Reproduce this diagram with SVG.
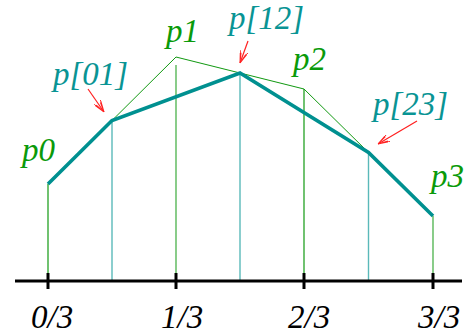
<svg xmlns="http://www.w3.org/2000/svg" width="466" height="336" viewBox="0 0 466 336">
<defs>
<style>
.g{fill:#0a9a0a}
.t{fill:#099494}
.k{fill:#000}
.vg{stroke:#119911;stroke-width:1.2;fill:none}
.vlg{stroke:#6cc06c;stroke-width:1.6;fill:none}
.vt{stroke:#5ab9b9;stroke-width:1.4;fill:none}
.ctrl{stroke:#119911;stroke-width:1;fill:none}
.curve{stroke:#009090;stroke-width:3.6;fill:none;stroke-linejoin:miter}
.axis{stroke:#000;stroke-width:3;fill:none}
.arr{stroke:#ff2020;stroke-width:1.2;fill:none;marker-end:url(#ah)}
</style>
<marker id="ah" viewBox="0 0 12 8" refX="12" refY="4" markerWidth="12" markerHeight="8" markerUnits="userSpaceOnUse" orient="auto">
<path d="M0,0 L12,4 L0,8 M2,1.5 L12,4 L2,6.5" fill="none" stroke="#ff2020" stroke-width="1"/>
</marker>
</defs>
<g id="verticals">
<line class="vg" x1="48" y1="184" x2="48" y2="281"/>
<line class="vt" x1="112" y1="121" x2="112" y2="281"/>
<line class="vlg" x1="176" y1="65" x2="176" y2="281"/>
<line class="vt" x1="240" y1="73" x2="240" y2="281"/>
<line class="vg" x1="304" y1="89" x2="304" y2="281"/>
<line class="vt" x1="368.5" y1="152" x2="368.5" y2="281"/>
<line class="vlg" x1="433" y1="216" x2="433" y2="281"/>
</g>
<g id="connectors">
<polyline class="ctrl" points="48,184 176,57 304,89 433,216"/>
<polyline class="curve" points="48,184 112,120.5 240,73 368.5,152.5 433,216"/>
<line class="arr" x1="88" y1="89" x2="104" y2="112"/>
<line class="arr" x1="248" y1="41" x2="240" y2="63"/>
<line class="arr" x1="417" y1="121" x2="378" y2="144"/>
</g>
<g id="axis">
<line class="axis" x1="15" y1="281" x2="462" y2="281"/>
<line class="axis" x1="48" y1="273" x2="48" y2="289"/>
<line class="axis" x1="176" y1="273" x2="176" y2="289"/>
<line class="axis" x1="304" y1="273" x2="304" y2="289"/>
<line class="axis" x1="433" y1="273" x2="433" y2="289"/>
</g>
<g font-family="Liberation Serif, Times New Roman, serif" font-style="italic" font-size="33">
<g id="p0"><text class="g" x="22" y="161">p0</text></g>
<g id="p01"><text class="t" x="53" y="85">p[01]</text></g>
<g id="p1"><text class="g" x="166" y="42">p1</text></g>
<g id="p12"><text class="t" x="229" y="29">p[12]</text></g>
<g id="p2"><text class="g" x="293" y="70">p2</text></g>
<g id="p23"><text class="t" x="373" y="115">p[23]</text></g>
<g id="p3"><text class="g" x="431" y="187">p3</text></g>
<g id="ticklabels">
<text class="k" x="31" y="328">0/3</text>
<text class="k" x="161" y="328">1/3</text>
<text class="k" x="288" y="328">2/3</text>
<text class="k" x="418" y="328">3/3</text>
</g>
</g>
</svg>
